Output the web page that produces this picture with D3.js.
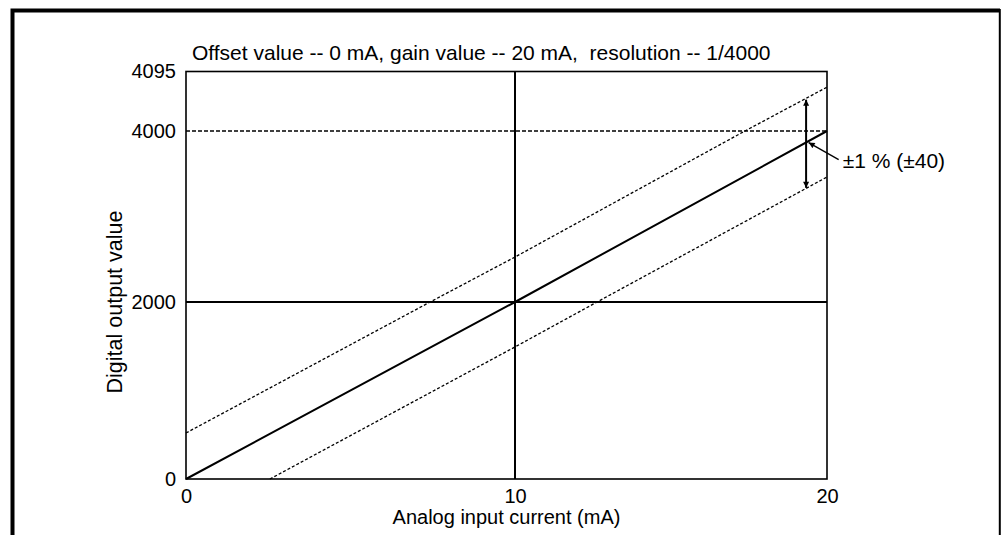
<!DOCTYPE html>
<html>
<head>
<meta charset="utf-8">
<script src="https://cdn.jsdelivr.net/npm/d3@7"></script>
<style>
  html, body { margin: 0; padding: 0; background: #fff; }
  svg text { font-family: "Liberation Sans", Arial, sans-serif; fill: #000; }
</style>
</head>
<body>
<div id="chart"></div>
<script>
// axis ticks
const xTicks = [0, 10, 20];
const yTicks = [0, 2000, 4000, 4095];

// input current (mA) -> digital value
const idealLine = [[0, 0], [10, 2000], [20, 4000]];
const upperLimit = [[0, 520], [7.42, 2000], [10, 2526], [17.37, 4000], [20, 4070]];
const lowerLimit = [[2.55, 0], [10, 1492], [12.63, 2000], [20, 3462]];
const toleranceSpan = [[19.33, 3335], [19.33, 4050]];
const calloutPoint = [19.38, 3876];

const titleText = "Offset value -- 0 mA, gain value -- 20 mA,  resolution -- 1/4000";
const calloutText = "\u00b11 % (\u00b140)";

const width = 1002, height = 535;

const svg = d3.select('#chart')
  .append('svg')
  .attr('width', width)
  .attr('height', height);

// the drawing is not quite linear, so the scales are piecewise
const x = d3.scaleLinear().domain(xTicks).range([186, 515, 827]);
const y = d3.scaleLinear().domain(yTicks).range([479, 302, 131, 71.5]);

const defs = svg.append('defs');
defs.append('marker')
  .attr('id', 'arrow')
  .attr('viewBox', '0 0 10 10')
  .attr('refX', 10).attr('refY', 5)
  .attr('markerWidth', 7).attr('markerHeight', 6)
  .attr('markerUnits', 'userSpaceOnUse')
  .attr('orient', 'auto-start-reverse')
  .append('path')
  .attr('d', 'M0,0 L10,5 L0,10 Z')
  .attr('fill', '#000');

// outer frame (no bottom edge)
svg.append('path')
  .attr('d', 'M12.5,535 V10.5 H1000')
  .attr('fill', 'none').attr('stroke', '#000').attr('stroke-width', 4);
svg.append('line')
  .attr('x1', 999.8).attr('x2', 999.8).attr('y1', 9).attr('y2', 535)
  .attr('stroke', '#000').attr('stroke-width', 2);

// title
svg.append('text')
  .attr('x', x(0) + 6).attr('y', 60)
  .style('white-space', 'pre')
  .style('font-size', '21px')
  .text(titleText);

// plot frame
svg.append('rect')
  .attr('x', x(0)).attr('y', y(4095))
  .attr('width', x(20) - x(0)).attr('height', y(0) - y(4095))
  .attr('fill', 'none').attr('stroke', '#000').attr('stroke-width', 1.6);

// reference lines
svg.append('line')
  .attr('x1', x(0)).attr('x2', x(20)).attr('y1', y(2000)).attr('y2', y(2000))
  .attr('stroke', '#000').attr('stroke-width', 2);
svg.append('line')
  .attr('x1', x(10)).attr('x2', x(10)).attr('y1', y(0)).attr('y2', y(4095))
  .attr('stroke', '#000').attr('stroke-width', 2);
svg.append('line')
  .attr('x1', x(0)).attr('x2', x(20)).attr('y1', y(4000)).attr('y2', y(4000))
  .attr('stroke', '#000').attr('stroke-width', 1.6)
  .attr('stroke-dasharray', '4,2');

const line = d3.line().x(d => x(d[0])).y(d => y(d[1]));

// tolerance band
[upperLimit, lowerLimit].forEach(d => {
  svg.append('path')
    .attr('d', line(d))
    .attr('fill', 'none').attr('stroke', '#000').attr('stroke-width', 1.3)
    .attr('stroke-dasharray', '3,2');
});

// ideal characteristic
svg.append('path')
  .attr('d', line(idealLine))
  .attr('fill', 'none').attr('stroke', '#000').attr('stroke-width', 2);

// +/- span arrow
svg.append('path')
  .attr('d', line(toleranceSpan))
  .attr('fill', 'none').attr('stroke', '#000').attr('stroke-width', 2)
  .attr('marker-start', 'url(#arrow)')
  .attr('marker-end', 'url(#arrow)');

// callout
const cx = x(calloutPoint[0]), cy = y(calloutPoint[1]);
svg.append('line')
  .attr('x1', cx + 31).attr('y1', cy + 18)
  .attr('x2', cx + 1).attr('y2', cy + 1)
  .attr('stroke', '#000').attr('stroke-width', 1.3)
  .attr('marker-end', 'url(#arrow)');
svg.append('text')
  .attr('x', cx + 35).attr('y', cy + 26)
  .style('font-size', '21px')
  .text(calloutText);

// axes
const xAxis = svg.append('g')
  .attr('transform', `translate(0,${y(0)})`)
  .call(d3.axisBottom(x).tickValues(xTicks).tickFormat(d3.format('d'))
    .tickSize(0).tickPadding(10));
const yAxis = svg.append('g')
  .attr('transform', `translate(${x(0)},0)`)
  .call(d3.axisLeft(y).tickValues(yTicks).tickFormat(d3.format('d'))
    .tickSize(0).tickPadding(10));
[xAxis, yAxis].forEach(g => {
  g.select('.domain').remove();
  g.attr('font-family', null).attr('font-size', null);
  g.selectAll('text').style('font-size', '20px');
});

// axis titles
svg.append('text')
  .attr('x', (x(0) + x(20)) / 2).attr('y', 524)
  .attr('text-anchor', 'middle')
  .style('font-size', '20px')
  .text('Analog input current (mA)');
svg.append('text')
  .attr('transform', `translate(122,${y(2000)}) rotate(-90)`)
  .attr('text-anchor', 'middle')
  .style('font-size', '21.5px')
  .text('Digital output value');
</script>
</body>
</html>
